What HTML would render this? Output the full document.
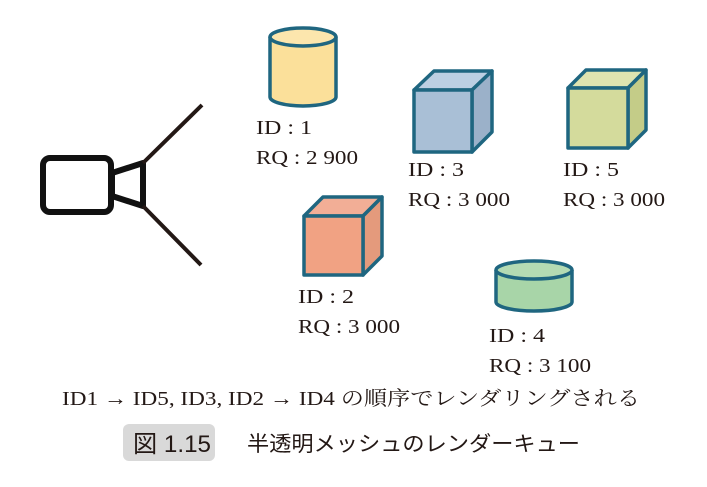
<!DOCTYPE html>
<html><head><meta charset="utf-8"><style>
html,body{margin:0;padding:0;background:#fff;}
svg{display:block;}
.t{font-family:"Liberation Serif","Noto Serif CJK SC",serif;font-size:20px;fill:#231815;}
.s{font-family:"Liberation Sans","Noto Sans CJK JP",sans-serif;fill:#231815;}
</style></head><body>
<svg width="707" height="487" viewBox="0 0 707 487" xmlns="http://www.w3.org/2000/svg">
<rect x="43" y="158" width="68" height="54" rx="7" fill="#fff" stroke="#111" stroke-width="6"/>
<polygon points="112,173 143,163 143,206 112,196" fill="#fff" stroke="#111" stroke-width="6" stroke-linejoin="round"/>
<line x1="143" y1="163" x2="202" y2="105" stroke="#231815" stroke-width="4"/>
<line x1="143" y1="206" x2="201" y2="265" stroke="#231815" stroke-width="4"/>
<g stroke="#1f6680" stroke-width="3.5" stroke-linejoin="round">
<path d="M270,37 L270,97 A33,9 0 0 0 336,97 L336,37" fill="#fbe09a"/>
<ellipse cx="303" cy="37" rx="33" ry="9" fill="#fce6ad"/>
<polygon points="414,90 434,71 492,71 472,90" fill="#bccfe2"/>
<polygon points="472,90 492,71 492,132 472,152" fill="#9bb1c9"/>
<rect x="414" y="90" width="58" height="62" fill="#a9bfd6"/>
<polygon points="568,88 586,70 646,70 628,88" fill="#dfe4b0"/>
<polygon points="628,88 646,70 646,130 628,148" fill="#c4cc88"/>
<rect x="568" y="88" width="60" height="60" fill="#d4db9c"/>
<polygon points="304,216 323,197 382,197 363,216" fill="#f2ae96"/>
<polygon points="363,216 382,197 382,256 363,275" fill="#e49a7c"/>
<rect x="304" y="216" width="59" height="59" fill="#f1a283"/>
<path d="M496,270 L496,302 A38,9 0 0 0 572,302 L572,270" fill="#a8d5a8"/>
<ellipse cx="534" cy="270" rx="38" ry="9" fill="#b4dbb3"/>
</g>
<text class="t" x="256" y="134" textLength="56" lengthAdjust="spacingAndGlyphs">ID : 1</text>
<text class="t" x="256" y="164" textLength="102" lengthAdjust="spacingAndGlyphs">RQ : 2 900</text>
<text class="t" x="408" y="176" textLength="56" lengthAdjust="spacingAndGlyphs">ID : 3</text>
<text class="t" x="408" y="206" textLength="102" lengthAdjust="spacingAndGlyphs">RQ : 3 000</text>
<text class="t" x="563" y="176" textLength="56" lengthAdjust="spacingAndGlyphs">ID : 5</text>
<text class="t" x="563" y="206" textLength="102" lengthAdjust="spacingAndGlyphs">RQ : 3 000</text>
<text class="t" x="298" y="303" textLength="56" lengthAdjust="spacingAndGlyphs">ID : 2</text>
<text class="t" x="298" y="333" textLength="102" lengthAdjust="spacingAndGlyphs">RQ : 3 000</text>
<text class="t" x="489" y="342" textLength="56" lengthAdjust="spacingAndGlyphs">ID : 4</text>
<text class="t" x="489" y="372" textLength="102" lengthAdjust="spacingAndGlyphs">RQ : 3 100</text>
<text class="t" x="62" y="405" textLength="578" lengthAdjust="spacingAndGlyphs">ID1 → ID5, ID3, ID2 → ID4 の順序でレンダリングされる</text>
<rect x="123" y="424" width="92" height="37" rx="6" fill="#d9d9d9"/>
<text class="s" x="133" y="452" font-size="24" textLength="78" lengthAdjust="spacingAndGlyphs">図 1.15</text>
<text class="s" x="247" y="451" font-size="21" textLength="333" lengthAdjust="spacingAndGlyphs">半透明メッシュのレンダーキュー</text>
</svg>
</body></html>
